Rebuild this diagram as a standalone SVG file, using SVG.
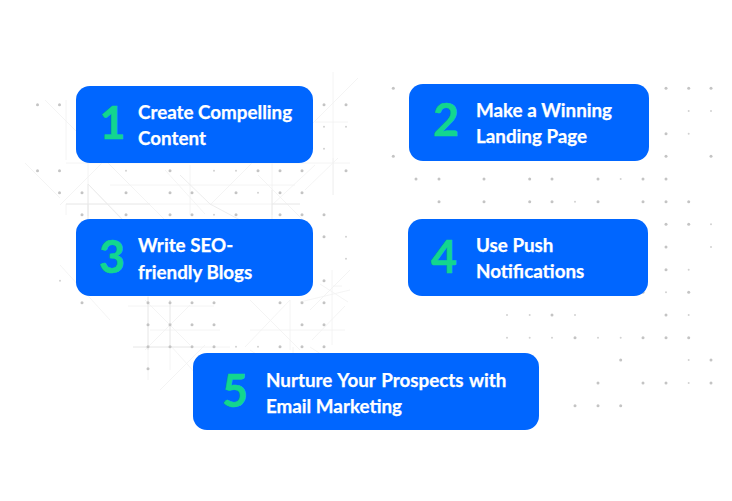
<svg xmlns="http://www.w3.org/2000/svg" width="732" height="501" viewBox="0 0 732 501">
<style>
.bg{fill:#fff}
.d{fill:#c4c4c4}
.s{fill:#d2d2d2}
.l{stroke:#f1f1f1;stroke-width:.8;fill:none}
.l2{stroke:#e8e8e8;stroke-width:.8;fill:none}
.card{fill:#0066ff}
.t{font-family:Lato,"Open Sans",sans-serif;font-weight:700;font-size:18.8px;fill:#fff;stroke:#fff;stroke-width:.25}
.w{word-spacing:1.3px}
.n{font-family:Lato,"Open Sans",sans-serif;font-weight:700;font-size:45px;fill:#13d68f;stroke:#13d68f;stroke-width:.5;text-anchor:middle}
</style>
<defs>
<circle id="a" r="1.5" class="d"/>
<circle id="b" r="1" class="s"/>
</defs>
<rect class="bg" width="732" height="501"/>
<g id="texture-lines">
<path class="l" d="M66 100V160M45 100L130 185M333 72V195M358 78L312 124M66 163H350M88 163V265M110 165L205 260M315 122H348M25 163L60 198M60 205L105 160M110 185H295M88 184L130 228M165 170L205 214M190 165V215M210 205L252 163M272 163V215M258 175L308 225M272 205L315 165M66 204H300M66 204V215M338 158L305 190M333 158V195"/>
<path class="l2" d="M88 184V220M88 184L125 222M66 204H150M88 204V216M210 204L180 175M272 190V220M210 204L240 220M272 204H300"/>
<path class="l" d="M60 265L110 320M128 306H214M148 270V380M170 300V370M150 330H220M133 347H230M145 300L190 345M170 345L215 395M190 305L145 350M160 390L205 345M250 300L300 350M245 347L290 300M250 330H345M290 300V350M300 302L350 290M310 310L350 270M293 290L312 270M332 270V345M320 284L348 302M312 340L345 306M333 286H342M293 347V390M310 347L330 360M250 350L280 370"/>
<path class="l2" d="M148 297V350M133 347H190M170 300V345"/>
</g>
<g id="texture-dots">
<use href="#a" x="37.5" y="104.7"/><use href="#a" x="59.5" y="104.7"/><use href="#a" x="324" y="104.7"/><use href="#a" x="346" y="104.7"/>
<use href="#b" x="324" y="126.7"/><use href="#b" x="346" y="126.7"/><use href="#b" x="324" y="148.7"/>
<use href="#a" x="37.5" y="170.7"/><use href="#a" x="59.5" y="170.7"/><use href="#b" x="126" y="170.7"/><use href="#a" x="170" y="170.7"/><use href="#b" x="214" y="170.7"/><use href="#b" x="236" y="170.7"/><use href="#a" x="258" y="170.7"/><use href="#a" x="280" y="170.7"/><use href="#a" x="302" y="170.7"/><use href="#a" x="346" y="170.7"/>
<use href="#a" x="59.5" y="192.7"/><use href="#a" x="82" y="192.7"/><use href="#a" x="126" y="192.7"/><use href="#a" x="170" y="192.7"/><use href="#a" x="192" y="192.7"/><use href="#a" x="236" y="192.7"/><use href="#b" x="258" y="192.7"/><use href="#a" x="280" y="192.7"/><use href="#a" x="302" y="192.7"/>
<use href="#a" x="82" y="214.7"/><use href="#a" x="126" y="214.7"/><use href="#a" x="170" y="214.7"/><use href="#a" x="192" y="214.7"/><use href="#b" x="214" y="214.7"/><use href="#a" x="236" y="214.7"/><use href="#a" x="280" y="214.7"/><use href="#a" x="302" y="214.7"/><use href="#a" x="324" y="214.7"/>
<use href="#a" x="324" y="236.7"/><use href="#b" x="346" y="236.7"/><use href="#b" x="346" y="258.7"/><use href="#a" x="324" y="280.7"/><use href="#b" x="60" y="280.7"/>
<use href="#a" x="82" y="302.7"/><use href="#a" x="148" y="302.7"/><use href="#a" x="170" y="302.7"/><use href="#a" x="192" y="302.7"/><use href="#a" x="214" y="302.7"/><use href="#a" x="280" y="302.7"/><use href="#a" x="302" y="302.7"/><use href="#a" x="324" y="302.7"/>
<use href="#a" x="148" y="324.7"/><use href="#a" x="170" y="324.7"/><use href="#a" x="192" y="324.7"/><use href="#a" x="214" y="324.7"/><use href="#a" x="302" y="324.7"/><use href="#a" x="324" y="324.7"/>
<use href="#a" x="148" y="346.7"/><use href="#a" x="170" y="346.7"/><use href="#a" x="192" y="346.7"/><use href="#a" x="214" y="346.7"/><use href="#b" x="236" y="346.7"/><use href="#b" x="258" y="346.7"/><use href="#a" x="280" y="346.7"/><use href="#a" x="302" y="346.7"/><use href="#a" x="324" y="346.7"/>
<use href="#a" x="148" y="368.7"/>
<use href="#a" x="393.3" y="88.3"/><use href="#a" x="666" y="88.3"/><use href="#a" x="688.7" y="88.3"/><use href="#a" x="711" y="88.3"/>
<use href="#b" x="688.7" y="111"/><use href="#b" x="711" y="111"/><use href="#a" x="666" y="133.7"/><use href="#b" x="688.7" y="133.7"/>
<use href="#a" x="393.3" y="156.3"/><use href="#a" x="666" y="156.3"/><use href="#a" x="711" y="156.3"/>
<use href="#a" x="416" y="179"/><use href="#a" x="439" y="179"/><use href="#a" x="484" y="179"/><use href="#a" x="529.7" y="179"/><use href="#a" x="552" y="179"/><use href="#a" x="598" y="179"/><use href="#b" x="620.7" y="179"/><use href="#a" x="643" y="179"/><use href="#a" x="666" y="179"/>
<use href="#a" x="439" y="201.7"/><use href="#a" x="484" y="201.7"/><use href="#a" x="529.7" y="201.7"/><use href="#a" x="552" y="201.7"/><use href="#b" x="575" y="201.7"/><use href="#a" x="598" y="201.7"/><use href="#a" x="643" y="201.7"/><use href="#a" x="666" y="201.7"/><use href="#a" x="688.7" y="201.7"/>
<use href="#a" x="666" y="224.3"/><use href="#a" x="688.7" y="224.3"/><use href="#b" x="711" y="224.3"/>
<use href="#a" x="666" y="247"/><use href="#b" x="711" y="247"/><use href="#a" x="666" y="269.7"/><use href="#b" x="688.7" y="269.7"/>
<use href="#a" x="643" y="292.3"/><use href="#b" x="666" y="292.3"/><use href="#a" x="688.7" y="292.3"/>
<use href="#b" x="507" y="315"/><use href="#b" x="529.7" y="315"/><use href="#a" x="552" y="315"/><use href="#b" x="575" y="315"/><use href="#a" x="666" y="315"/><use href="#b" x="688.7" y="315"/>
<use href="#b" x="507" y="337.7"/><use href="#b" x="529.7" y="337.7"/><use href="#b" x="552" y="337.7"/><use href="#a" x="575" y="337.7"/><use href="#b" x="598" y="337.7"/><use href="#b" x="620.7" y="337.7"/><use href="#a" x="643" y="337.7"/><use href="#a" x="666" y="337.7"/><use href="#a" x="688.7" y="337.7"/>
<use href="#a" x="620.7" y="360"/><use href="#b" x="688.7" y="360"/><use href="#a" x="711" y="360"/>
<use href="#a" x="598" y="383"/><use href="#a" x="643" y="383"/><use href="#a" x="666" y="383"/><use href="#b" x="688.7" y="383"/><use href="#a" x="711" y="383"/>
<use href="#a" x="575" y="405.7"/><use href="#a" x="598" y="405.7"/><use href="#a" x="620.7" y="405.7"/>
</g>
<g id="node-1"><rect class="card" x="76" y="86" width="237" height="77" rx="14"/><text class="n" x="112.5" y="139">1</text><text class="t" x="138" y="119">Create Compelling</text><text class="t" x="138" y="145">Content</text></g>
<g id="node-2"><rect class="card" x="409" y="84" width="240" height="77" rx="14"/><text class="n" x="446" y="136">2</text><text class="t" x="476" y="117">Make a Winning</text><text class="t" x="476" y="143">Landing Page</text></g>
<g id="node-3"><rect class="card" x="76" y="219" width="237" height="77" rx="14"/><text class="n" x="112" y="273">3</text><text class="t" x="138" y="252">Write SEO-</text><text class="t" x="138" y="279">friendly Blogs</text></g>
<g id="node-4"><rect class="card" x="408" y="219" width="240" height="77" rx="14"/><text class="n" x="444" y="273">4</text><text class="t" x="476" y="252">Use Push</text><text class="t" x="476" y="278">Notifications</text></g>
<g id="node-5"><rect class="card" x="193" y="353" width="346" height="77" rx="14"/><text class="n" x="235" y="407">5</text><text class="t w" x="266" y="387">Nurture Your Prospects with</text><text class="t" x="266" y="413">Email Marketing</text></g>
</svg>
